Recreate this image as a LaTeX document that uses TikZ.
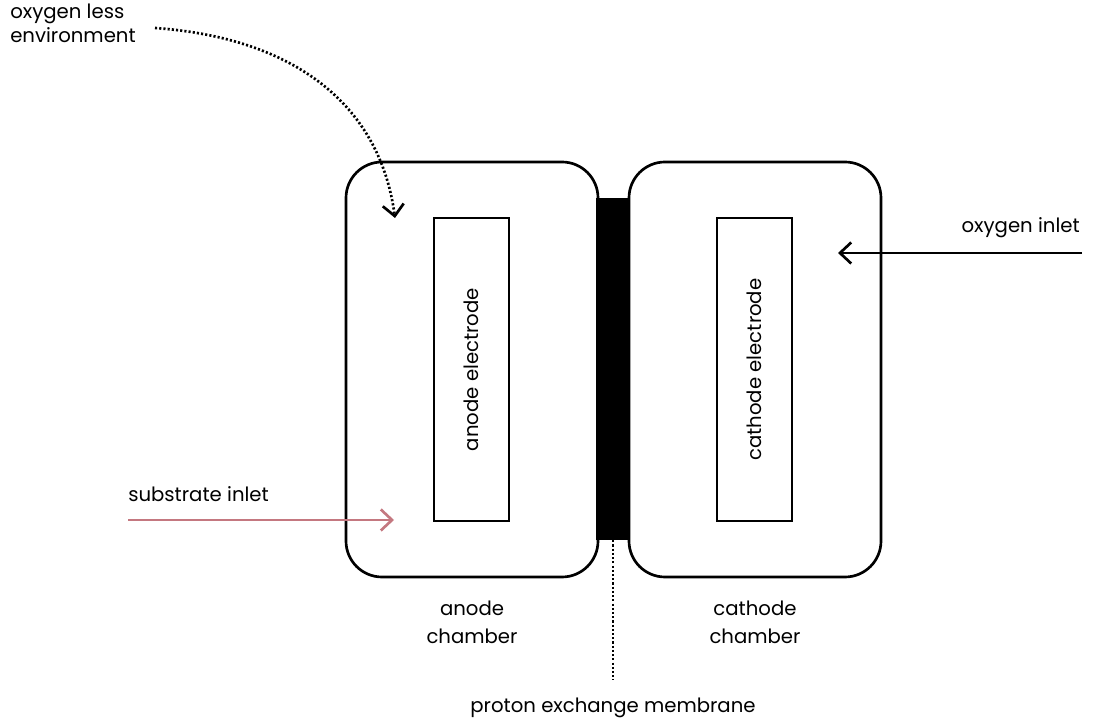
\documentclass[tikz,border=0pt]{standalone}
\usepackage{fontspec}
\setmainfont{Poppins}
\usetikzlibrary{positioning}
\usetikzlibrary{arrows.meta}

\definecolor{rosewood}{RGB}{196,120,128}

\tikzset{
  chamber/.style = {draw, line width=1.9pt, rounded corners=.9cm, minimum width=6.3cm, minimum height=10.375cm},
  electrode/.style = {draw, line width=1.9pt, minimum width=1.875cm, minimum height=7.575cm},
  lbl/.style = {font=\fontsize{14}{17}\selectfont, align=center, inner sep=0pt},
  barb/.style = {-{Straight Barb[length=8pt, width=15pt, line width=1.9pt]}},
  dots/.style = {dash pattern=on 1.5pt off 1.5pt}
}

\begin{document}
\begin{tikzpicture}
  \useasboundingbox (0,0) rectangle (27.45,18.05);
  \tikzset{node distance = .5cm and 2cm}

  % membrane between the two chambers
  \node[fill=black, minimum width=.85cm, minimum height=8.55cm, inner sep=0pt] (pem) at (15.325,8.825) {};

  \node[chamber] (achamber) at (11.8,8.8125) {};
  \node[chamber] (cchamber) at (18.875,8.8125) {};

  \node[electrode] (anode) at (11.79,8.81) {};
  \node[electrode] (cathode) at (18.86,8.81) {};
  \node[lbl, rotate=90] (anodetxt) at (anode.center) {anode electrode};
  \node[lbl, rotate=90] (cathodetxt) at (cathode.center) {cathode electrode};

  \node[lbl, font=\fontsize{14}{20}\selectfont, below=.55cm of achamber] (alabel) {anode\\chamber};
  \node[lbl, font=\fontsize{14}{20}\selectfont, below=.55cm of cchamber] (clabel) {cathode\\chamber};
  \node[lbl] (pemlabel) at (15.325,.35) {proton exchange membrane};

  \node[lbl, align=left, anchor=north west] (olabel) at (.25,17.95) {oxygen less\\environment};
  \node[lbl, anchor=east] (inlabel) at (27.0,12.35) {oxygen inlet};
  \node[lbl, anchor=west] (slabel) at (3.2,5.7) {substrate inlet};

  \coordinate (oxstart) at (27.05,11.725);
  \coordinate (oxend) at (20.95,11.725);
  \coordinate (substart) at (3.2,5.05);
  \coordinate (subend) at (9.85,5.05);
  \coordinate (envstart) at (3.875,17.35);
  \coordinate (envend) at (9.875,12.6);
  \coordinate (pemend) at (15.325,1.05);

  \draw[barb, line width=1.9pt] (oxstart) -- (oxend);
  \draw[barb, line width=1.9pt, rosewood] (substart) -- (subend);
  \draw[barb, line width=1.9pt, dots] (envstart) .. controls (7.4,17.1) and (9.5,15.4) .. (envend);
  \draw[line width=1.9pt, dots] (pem.south) -- (pemend);
\end{tikzpicture}
\end{document}
